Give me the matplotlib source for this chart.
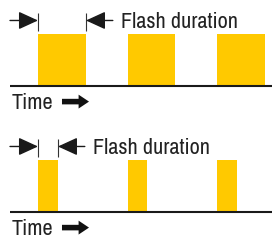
import matplotlib.pyplot as plt

# flash start times (in flash periods) and flash lengths for the two panels
flash_starts = [0, 1, 2]
durations = [0.536, 0.223]
label = "Flash duration"
axis_label = "Time"

yellow = "#FFC900"
font = ["Archivo Narrow", "DejaVu Sans"]

W, H = 272, 242
fig = plt.figure(figsize=(W / 100, H / 100), dpi=100)

px_x = 89.5    # pixels per period
px_y = 52.0    # pixels per bar height
x0 = 38        # pixel of t = 0
ylo, yhi = -0.65, 1.7
baselines = [86, 212]   # pixel rows of the time axis, from the top

for base, dur in zip(baselines, durations):
    bottom = base - ylo * px_y
    ax = fig.add_axes([10 / W, (H - bottom) / H, 262 / W, (yhi - ylo) * px_y / H])
    ax.set_xlim((10 - x0) / px_x, (W - x0) / px_x)
    ax.set_ylim(ylo, yhi)
    ax.axis("off")

    ax.bar(flash_starts, [1] * len(flash_starts), width=dur, align="edge",
           color=yellow, linewidth=0)
    ax.axhline(0, color="#1a1a1a", lw=1.5)

    # flash duration marker
    x_start = flash_starts[0]
    x_end = flash_starts[0] + dur
    ax.vlines([x_start, x_end], 1.06, 1.41, color="#333333", lw=0.8)
    head = "-|>,head_length=1.2,head_width=0.55"
    ax.annotate("", xy=(x_start, 1.26), xytext=((10 - x0) / px_x, 1.26),
                arrowprops=dict(arrowstyle=head, color="#1a1a1a", lw=1.0,
                                shrinkA=0, shrinkB=0))
    ax.annotate("", xy=(x_end, 1.26), xytext=(x_end + 0.3, 1.26),
                arrowprops=dict(arrowstyle=head, color="#1a1a1a", lw=1.0,
                                shrinkA=0, shrinkB=0))
    ax.text(x_end + 0.39, 1.11, label, family=font, fontsize=16,
            color="#222222", va="baseline", ha="left")

    # time label and arrow
    ax.text(-0.3, -0.45, axis_label, family=font, fontsize=16,
            color="#222222", va="baseline", ha="left")
    ax.annotate("", xy=(0.57, -0.3), xytext=(0.268, -0.3),
                arrowprops=dict(arrowstyle="simple,head_length=0.75,head_width=1.0,tail_width=0.4",
                                color="#111111", lw=0, shrinkA=0, shrinkB=0))

fig.savefig("out.png", dpi=100)
